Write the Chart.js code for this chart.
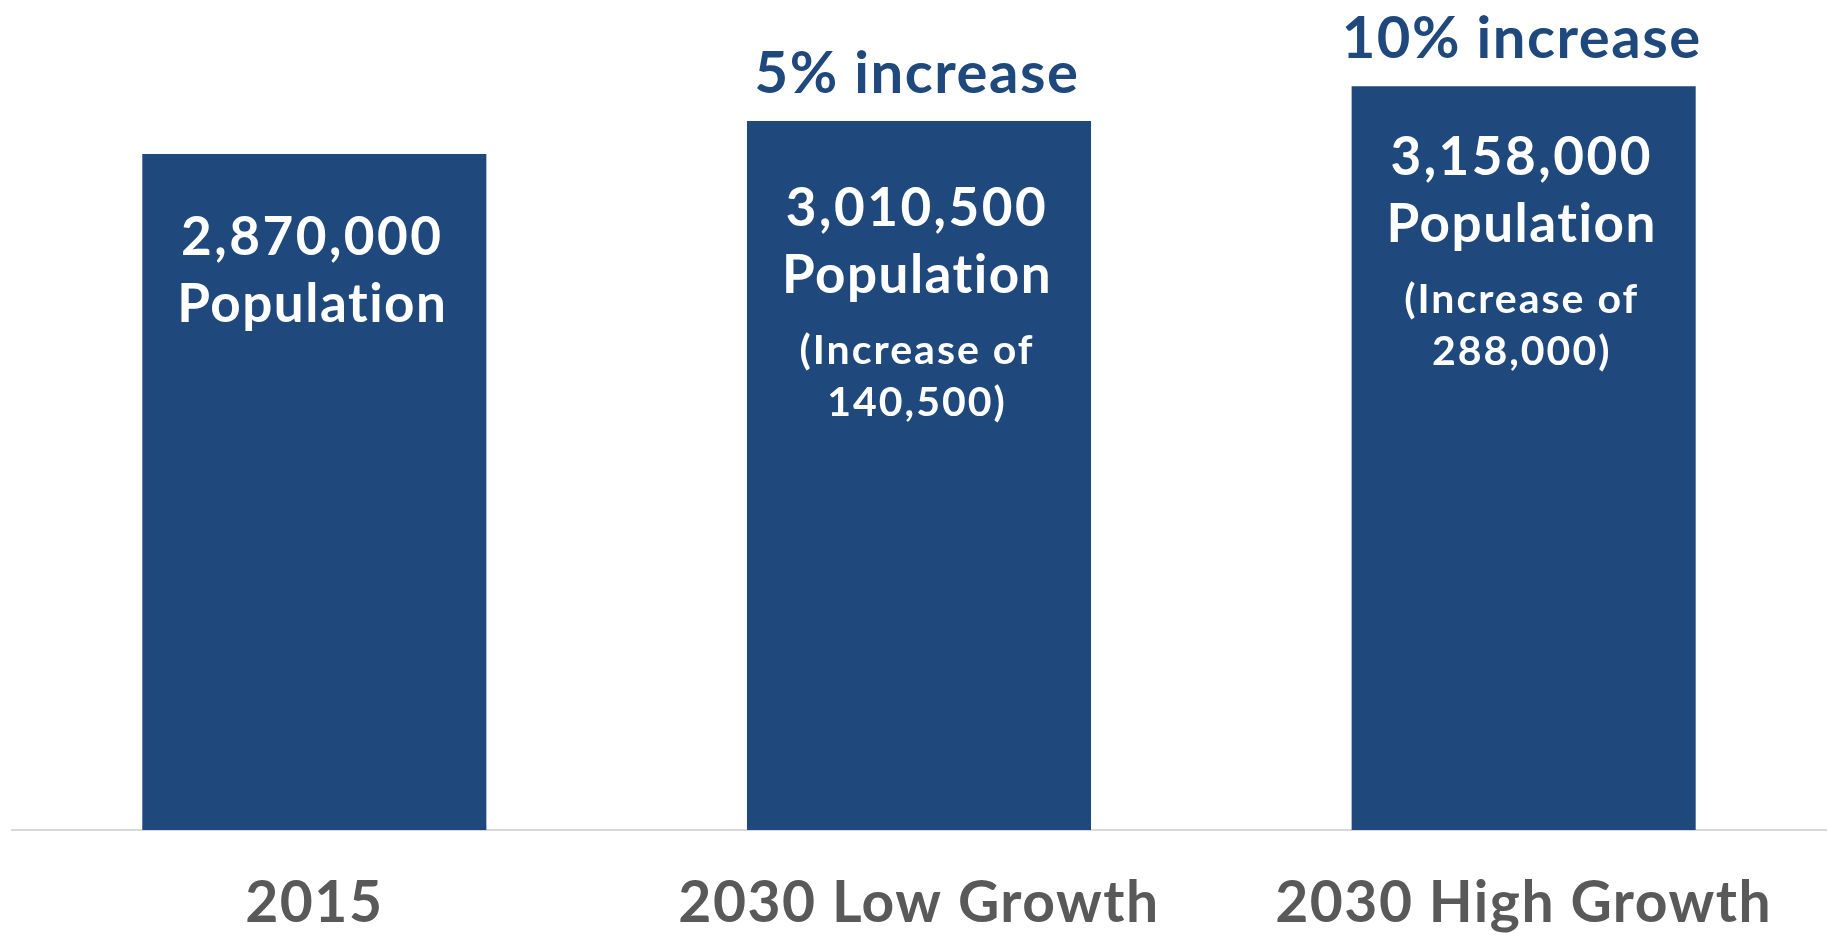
<!DOCTYPE html>
<html>
<head>
<meta charset="utf-8">
<title>Population growth</title>
<script src="https://cdn.jsdelivr.net/npm/chart.js@4.4.1/dist/chart.umd.min.js"></script>
<style>
  html, body { margin: 0; padding: 0; background: #fff; }
  #wrap { width: 1829px; height: 937px; position: relative; }
</style>
</head>
<body>
<div id="wrap"><canvas id="popChart"></canvas></div>
<script>
// === DATA ===
const categories = ['2015', '2030 Low Growth', '2030 High Growth'];
const population = [2870000, 3010500, 3158000];
const growthLabels = ['', '5% increase', '10% increase'];
const increaseOf = [null, 140500, 288000];

const NAVY = '#1f497d';
const FONT = 'Lato, "Open Sans", sans-serif';

const fmt = n => n.toLocaleString('en-US');

// labels on and above the bars
const barText = {
  id: 'barText',
  beforeDraw(chart) {
    chart.ctx.letterSpacing = '1.5px';
  },
  afterDatasetsDraw(chart) {
    const ctx = chart.ctx;
    const bars = chart.getDatasetMeta(0).data;
    const firstLine = [101, 105, 89];
    ctx.save();
    ctx.textAlign = 'center';
    ctx.textBaseline = 'alphabetic';
    bars.forEach((bar, i) => {
      const x = bar.x - 2, top = bar.y;

      if (growthLabels[i]) {
        ctx.fillStyle = NAVY;
        ctx.font = 'bold 58px ' + FONT;
        ctx.letterSpacing = '1.5px';
        ctx.fillText(growthLabels[i], x, top - 28);
      }

      ctx.fillStyle = '#fff';
      ctx.font = 'bold 53px ' + FONT;
      ctx.letterSpacing = '2.5px';
      let y = top + firstLine[i];
      ctx.fillText(fmt(population[i]), x, y);
      ctx.letterSpacing = '1.5px';
      y += 67;
      ctx.fillText('Population', x, y);

      if (increaseOf[i] != null) {
        ctx.font = 'bold 41px ' + FONT;
        ctx.letterSpacing = '2px';
        y += 71;
        ctx.fillText('(Increase of', x, y);
        y += 52;
        ctx.fillText(fmt(increaseOf[i]) + ')', x, y);
      }
    });
    ctx.restore();
  }
};

new Chart(document.getElementById('popChart'), {
  type: 'bar',
  data: {
    labels: categories,
    datasets: [{
      data: population,
      backgroundColor: NAVY,
      borderWidth: 0,
      barPercentage: 0.569,
      categoryPercentage: 1
    }]
  },
  options: {
    responsive: true,
    maintainAspectRatio: false,
    animation: false,
    layout: { padding: { left: 12, right: 3, top: 0, bottom: 0 } },
    plugins: { legend: { display: false }, tooltip: { enabled: false } },
    scales: {
      x: {
        grid: { display: false },
        border: { display: true, color: '#d9d9d9', width: 2 },
        ticks: {
          color: '#595959',
          font: { family: FONT, size: 57, weight: 'bold' },
          padding: 31,
          maxRotation: 0,
          autoSkip: false
        },
        afterFit(scale) { scale.height = 107; }
      },
      y: {
        display: false,
        min: 0,
        max: 3524000
      }
    }
  },
  plugins: [barText]
});
</script>
</body>
</html>
